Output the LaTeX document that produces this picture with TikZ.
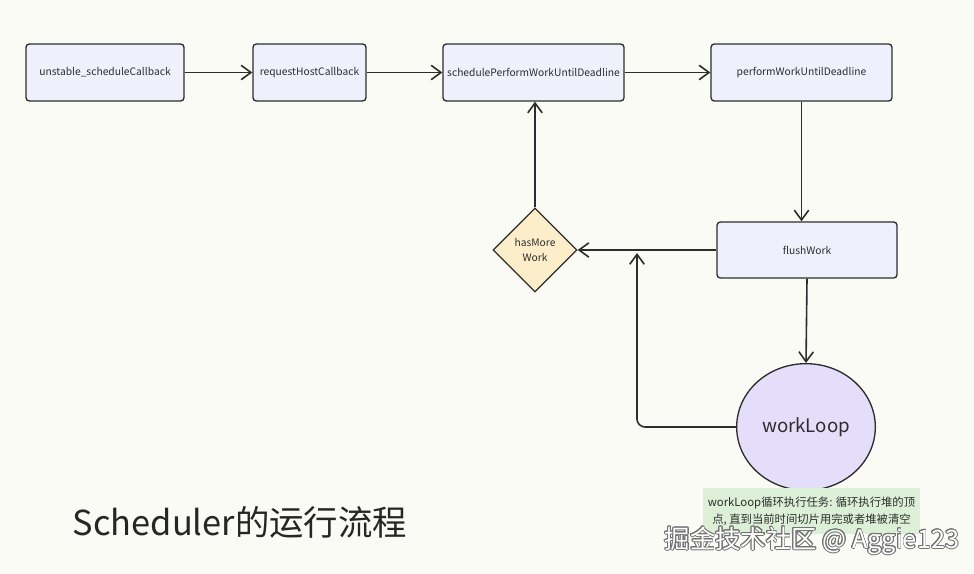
\documentclass[tikz,border=0pt]{standalone}
\usepackage{fontspec}
\setmainfont{Noto Sans CJK SC}
\usepackage{contour}
\contourlength{0.7pt}
\usepackage{tikz}
\usetikzlibrary{arrows.meta,shapes.geometric,positioning,calc}
\definecolor{bgcream}{RGB}{251,251,246}
\definecolor{fnblue}{RGB}{238,240,251}
\definecolor{decyellow}{RGB}{252,238,200}
\definecolor{looplilac}{RGB}{228,222,250}
\definecolor{notegreen}{RGB}{219,240,214}
\definecolor{inkgray}{RGB}{45,45,45}

\begin{document}
\begin{tikzpicture}[
  x=0.75pt, y=-0.75pt,
  >={Straight Barb[length=2.6mm,width=3.8mm]},
  fn/.style={rectangle, rounded corners=2.5pt, draw=inkgray, fill=fnblue,
             line width=1pt, align=center, inner sep=2pt, text=inkgray,
             font=\fontsize{7.7}{10}\selectfont},
  decide/.style={diamond, aspect=1, draw=inkgray, fill=decyellow,
                 line width=1pt, align=center, inner sep=0pt, text=inkgray,
                 minimum size=63pt, font=\fontsize{7.7}{11}\selectfont},
  loopnode/.style={ellipse, draw=inkgray, fill=looplilac, line width=1pt,
                   text=inkgray, font=\fontsize{14}{16}\selectfont},
  flow/.style={->, draw=inkgray, line width=1.2pt},
]
\fill[bgcream] (0,0) rectangle (974,574);
% Row 1 -- call chain
\node[fn, minimum width=118.5pt, minimum height=42.75pt] (sched) at (105,72.5)
  {unstable\_scheduleCallback};
\node[fn, minimum width=84.75pt, minimum height=42.75pt] (reqhost) at (309.5,72.5)
  {requestHostCallback};
\node[fn, minimum width=135.75pt, minimum height=42.75pt] (spwud) at (533.5,72.5)
  {schedulePerformWorkUntilDeadline};
\node[fn, minimum width=135.75pt, minimum height=42.75pt] (pwud) at (801.5,72.5)
  {performWorkUntilDeadline};
% Row 2 -- flushWork / hasMoreWork
\node[fn, minimum width=135pt, minimum height=42pt] (flush) at (807,250)
  {flushWork};
\node[decide] (hasmore) at (535,250) {hasMore\\Work};
% Row 3 -- workLoop
\node[loopnode, minimum width=104pt, minimum height=95pt] (workloop) at (806,427)
  {workLoop};
\node[fill=notegreen, minimum width=163pt, minimum height=34.5pt, inner sep=2pt,
      align=center, text=inkgray, font=\fontsize{8.5}{12.5}\selectfont] (note)
  at (811.5,511)
  {workLoop循环执行任务: 循环执行堆的顶\\点, 直到当前时间切片用完或者堆被清空};
\coordinate (loopin) at (637,253);
% title + stamp
\node[anchor=west, text=black!85, font=\fontsize{25.8}{30}\selectfont] (title)
  at (68,522) {Scheduler的运行流程};
\node[anchor=west, text=white, font=\fontsize{19}{22}\selectfont] (stamp)
  at (660,541) {\contour{black!55}{掘金技术社区 @ Aggie123}};
% edges
\draw[flow] (sched.east) -- (reqhost.west);
\draw[flow] (reqhost.east) -- (spwud.west);
\draw[flow] (spwud.east) -- (pwud.west);
\draw[flow] (pwud.south) -- (pwud.south |- flush.north);
\draw[flow] (flush.west) -- (hasmore.east);
\draw[flow] (hasmore.north) -- (hasmore.north |- spwud.south);
\draw[flow] (flush.south) -- (workloop.north);
\draw[flow, rounded corners=6pt] (workloop.west) -| (loopin);
\end{tikzpicture}
\end{document}
